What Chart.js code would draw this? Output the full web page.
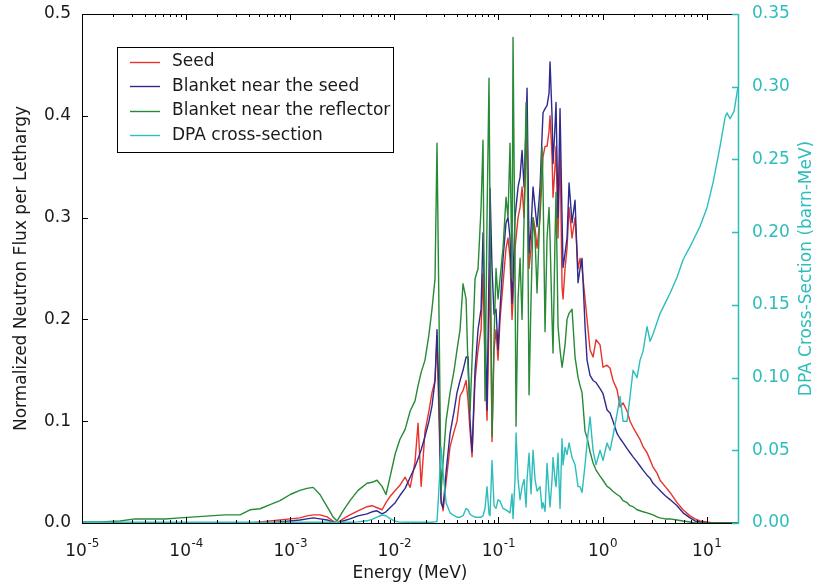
<!DOCTYPE html>
<html>
<head>
<meta charset="utf-8">
<script src="https://cdn.jsdelivr.net/npm/chart.js@4.4.1/dist/chart.umd.min.js"></script>
<style>
  html, body { margin: 0; background: #fff; }
  canvas { display: block; }
</style>
</head>
<body>
<canvas id="flux" width="815" height="585"></canvas>
<script>
// energy grid (MeV)
const energyMeV = [
  1.0e-5, 1.49e-5, 2.32e-5, 3.23e-5, 4.50e-5, 6.27e-5, 8.73e-5, 1.22e-4, 1.70e-4, 2.36e-4,
  3.30e-4, 4.11e-4, 5.13e-4, 6.40e-4, 7.98e-4, 1.00e-3, 1.24e-3, 1.45e-3, 1.66e-3, 1.93e-3,
  2.26e-3, 2.58e-3, 2.82e-3, 3.22e-3, 3.75e-3, 4.48e-3, 5.47e-3, 6.11e-3, 6.82e-3, 7.62e-3,
  8.32e-3, 9.09e-3, 0.0102, 0.0113, 0.0127, 0.0142, 0.0158, 0.0169, 0.0181, 0.0197,
  0.0215, 0.0230, 0.0246, 0.0257, 0.0269, 0.0281, 0.0294, 0.0314, 0.0343, 0.0375,
  0.0400, 0.0428, 0.0457, 0.0489, 0.0511, 0.0534, 0.0558, 0.0596, 0.0637, 0.0681,
  0.0711, 0.0743, 0.0777, 0.0812, 0.0830, 0.0868, 0.0907, 0.0948, 0.0991, 0.1036,
  0.1107, 0.1183, 0.1236, 0.1292, 0.1351, 0.1381, 0.1443, 0.1476, 0.1543, 0.1613,
  0.1686, 0.1762, 0.1842, 0.1883, 0.1968, 0.2057, 0.2150, 0.2247, 0.2349, 0.2510,
  0.2623, 0.2682, 0.2803, 0.2930, 0.3062, 0.3131, 0.3272, 0.3345, 0.3496, 0.3574,
  0.3736, 0.3905, 0.4083, 0.4174, 0.4363, 0.4560, 0.4767, 0.5093, 0.5443, 0.5817,
  0.6080, 0.6355, 0.6791, 0.7099, 0.7585, 0.8105, 0.8661, 0.9462, 1.011, 1.105,
  1.180, 1.261, 1.378, 1.473, 1.574, 1.720, 1.837, 1.963, 2.145, 2.292,
  2.449, 2.676, 2.860, 3.056, 3.338, 3.568, 3.985, 4.450, 5.196, 5.933,
  6.925, 7.736, 8.642, 10.09, 11.52, 13.45, 15.03, 15.70, 16.78, 18.33, 20.0
];

const seedFlux = [
  0, 0, 0, 0, 0, 0, 0, 0, 0, 0,
  0, 0, 0.001, 0.002, 0.003, 0.004, 0.005, 0.007, 0.008, 0.008,
  0.006, 0.002, 0.0, 0.004, 0.008, 0.012, 0.016, 0.017, 0.015, 0.013,
  0.020, 0.026, 0.032, 0.037, 0.045, 0.035, 0.060, 0.098, 0.036, 0.090,
  0.110, 0.128, 0.140, 0.183, 0.100, 0.025, 0.012, 0.040, 0.075, 0.090,
  0.100, 0.125, 0.130, 0.140, 0.120, 0.090, 0.065, 0.140, 0.170, 0.190,
  0.245, 0.160, 0.101, 0.200, 0.255, 0.080, 0.170, 0.190, 0.160, 0.200,
  0.235, 0.270, 0.280, 0.260, 0.200, 0.220, 0.270, 0.280, 0.300, 0.310,
  0.330, 0.300, 0.360, 0.390, 0.250, 0.270, 0.300, 0.290, 0.270, 0.300,
  0.340, 0.360, 0.370, 0.370, 0.385, 0.400, 0.360, 0.320, 0.350, 0.370,
  0.280, 0.370, 0.232, 0.220, 0.250, 0.270, 0.310, 0.280, 0.300, 0.250,
  0.260, 0.250, 0.220, 0.200, 0.170, 0.163, 0.180, 0.175, 0.153, 0.155,
  0.152, 0.140, 0.131, 0.114, 0.118, 0.110, 0.100, 0.094, 0.087, 0.082,
  0.075, 0.069, 0.062, 0.055, 0.049, 0.042, 0.036, 0.030, 0.020, 0.013,
  0.007, 0.004, 0.002, 0.001, 0, 0, 0, 0, 0, 0, 0
];

const blanketSeedFlux = [
  0, 0, 0, 0, 0, 0, 0, 0, 0, 0,
  0, 0, 0, 0, 0.001, 0.002, 0.003, 0.004, 0.005, 0.004,
  0.003, 0.001, 0.0, 0.002, 0.004, 0.007, 0.009, 0.011, 0.012, 0.009,
  0.011, 0.015, 0.020, 0.027, 0.034, 0.045, 0.055, 0.063, 0.072, 0.085,
  0.100, 0.115, 0.140, 0.190, 0.120, 0.020, 0.015, 0.050, 0.088, 0.110,
  0.128, 0.140, 0.150, 0.163, 0.163, 0.100, 0.070, 0.150, 0.190, 0.210,
  0.285, 0.200, 0.111, 0.250, 0.329, 0.250, 0.205, 0.210, 0.170, 0.210,
  0.260, 0.295, 0.300, 0.280, 0.216, 0.240, 0.300, 0.310, 0.330, 0.340,
  0.366, 0.330, 0.390, 0.427, 0.265, 0.290, 0.330, 0.310, 0.291, 0.330,
  0.380, 0.403, 0.407, 0.410, 0.422, 0.453, 0.400, 0.353, 0.390, 0.413,
  0.300, 0.407, 0.300, 0.251, 0.265, 0.280, 0.334, 0.295, 0.317, 0.236,
  0.250, 0.260, 0.193, 0.160, 0.145, 0.140, 0.138, 0.132, 0.127, 0.111,
  0.108, 0.100, 0.088, 0.083, 0.079, 0.073, 0.069, 0.065, 0.060, 0.056,
  0.052, 0.047, 0.044, 0.039, 0.035, 0.032, 0.027, 0.023, 0.017, 0.010,
  0.005, 0.002, 0.001, 0, 0, 0, 0, 0, 0, 0, 0
];

const blanketReflFlux = [
  0.001, 0.001, 0.002, 0.004, 0.004, 0.004, 0.005, 0.006, 0.007, 0.008,
  0.008, 0.013, 0.014, 0.018, 0.022, 0.028, 0.032, 0.034, 0.035, 0.028,
  0.016, 0.006, 0.002, 0.012, 0.022, 0.032, 0.039, 0.040, 0.042, 0.036,
  0.028, 0.045, 0.068, 0.082, 0.092, 0.110, 0.120, 0.135, 0.148, 0.160,
  0.185, 0.210, 0.240, 0.373, 0.200, 0.030, 0.060, 0.100, 0.128, 0.150,
  0.170, 0.190, 0.235, 0.220, 0.150, 0.110, 0.160, 0.240, 0.250, 0.310,
  0.376, 0.120, 0.300, 0.437, 0.300, 0.085, 0.180, 0.250, 0.220, 0.240,
  0.270, 0.320, 0.300, 0.373, 0.240, 0.477, 0.250, 0.095, 0.220, 0.260,
  0.200, 0.300, 0.413, 0.380, 0.126, 0.220, 0.300, 0.280, 0.226, 0.310,
  0.369, 0.330, 0.188, 0.280, 0.310, 0.280, 0.200, 0.167, 0.280, 0.325,
  0.193, 0.170, 0.153, 0.160, 0.175, 0.200, 0.206, 0.210, 0.163, 0.143,
  0.135, 0.128, 0.090, 0.084, 0.070, 0.059, 0.052, 0.046, 0.042, 0.036,
  0.034, 0.031, 0.028, 0.026, 0.022, 0.020, 0.017, 0.016, 0.013, 0.012,
  0.011, 0.010, 0.009, 0.008, 0.006, 0.005, 0.004, 0.004, 0.003, 0.002,
  0.001, 0, 0, 0, 0, 0, 0, 0, 0, 0, 0
];

// DPA cross-section, right axis (barn-MeV)
const dpaXs = [
  0.0005, 0.0005, 0.0005, 0.0005, 0.0005, 0.0005, 0.0005, 0.0005, 0.0005, 0.0005,
  0.0005, 0.0005, 0.0005, 0.0005, 0.0005, 0.0005, 0.0005, 0.0005, 0.0005, 0.0005,
  0.0005, 0.0005, 0.0005, 0.0005, 0.0005, 0.0008, 0.0015, 0.0025, 0.004, 0.0055,
  0.005, 0.003, 0.0012, 0.0006, 0.0005, 0.0005, 0.0005, 0.0005, 0.0005, 0.0005,
  0.0005, 0.0005, 0.0008, 0.001, 0.025, 0.052, 0.035, 0.014, 0.007, 0.005,
  0.004, 0.004, 0.005, 0.010, 0.009, 0.006, 0.005, 0.004, 0.004, 0.004,
  0.005, 0.010, 0.025, 0.006, 0.005, 0.043, 0.012, 0.010, 0.016, 0.015,
  0.010, 0.009, 0.008, 0.007, 0.020, 0.003, 0.030, 0.062, 0.030, 0.016,
  0.025, 0.030, 0.011, 0.030, 0.048, 0.020, 0.050, 0.030, 0.022, 0.025,
  0.010, 0.014, 0.008, 0.041, 0.020, 0.011, 0.030, 0.045, 0.030, 0.025,
  0.048, 0.010, 0.058, 0.040, 0.052, 0.047, 0.055, 0.045, 0.040, 0.025,
  0.025, 0.021, 0.040, 0.055, 0.073, 0.050, 0.040, 0.050, 0.043, 0.055,
  0.050, 0.060, 0.075, 0.087, 0.070, 0.070, 0.087, 0.105, 0.100, 0.112,
  0.118, 0.135, 0.125, 0.130, 0.138, 0.144, 0.151, 0.158, 0.169, 0.181,
  0.190, 0.197, 0.204, 0.217, 0.234, 0.259, 0.279, 0.282, 0.278, 0.283, 0.300
];

const seriesLabels = ['Seed', 'Blanket near the seed', 'Blanket near the reflector', 'DPA cross-section'];
const fluxTicks = [0, 0.1, 0.2, 0.3, 0.4, 0.5];
const dpaTicks = [0, 0.05, 0.10, 0.15, 0.20, 0.25, 0.30, 0.35];
const energyDecades = [1e-5, 1e-4, 1e-3, 1e-2, 1e-1, 1, 10];

const FONT = "'DejaVu Sans', sans-serif";
const FS = 17;
const INK = '#1a1a1a';
const RED = '#e8332a';
const NAVY = '#2e2a8e';
const GREEN = '#268a36';
const TEAL = '#2ebdbd';
const colors = [RED, NAVY, GREEN, TEAL];
const values = [seedFlux, blanketSeedFlux, blanketReflFlux, dpaXs];

// minor ticks 2..9 per decade inside the x range
let minorEnergies = [];
energyDecades.forEach(d => {
  for (let k = 2; k <= 9; k++) if (k * d <= 20) minorEnergies.push(k * d);
});

// drop the half-label padding chart.js adds so the plot box sits where the reference has it
let fixVertical = (s, w) => {
  s.width = w;
  s.paddingTop = 0;
  s.paddingBottom = 0;
};

const frame = {
  id: 'frame',
  afterDraw(chart) {
    const { ctx, chartArea: a, scales } = chart;
    const x = scales.x, y = scales.y, y2 = scales.y2;
    ctx.save();
    ctx.lineWidth = 1;

    // x ticks, bottom and top, pointing inward
    ctx.strokeStyle = '#000';
    ctx.beginPath();
    energyDecades.forEach(v => {
      let px = Math.round(x.getPixelForValue(v)) + 0.5;
      ctx.moveTo(px, a.bottom); ctx.lineTo(px, a.bottom - 6);
      ctx.moveTo(px, a.top); ctx.lineTo(px, a.top + 6);
    });
    minorEnergies.forEach(v => {
      let px = Math.round(x.getPixelForValue(v)) + 0.5;
      ctx.moveTo(px, a.bottom); ctx.lineTo(px, a.bottom - 3);
      ctx.moveTo(px, a.top); ctx.lineTo(px, a.top + 3);
    });
    fluxTicks.forEach(v => {
      let py = Math.round(y.getPixelForValue(v)) + 0.5;
      ctx.moveTo(a.left, py); ctx.lineTo(a.left + 6, py);
    });
    ctx.stroke();

    // spines
    ctx.beginPath();
    ctx.moveTo(a.left + 0.5, a.top + 0.5);
    ctx.lineTo(a.left + 0.5, a.bottom + 0.5);
    ctx.lineTo(a.right, a.bottom + 0.5);
    ctx.moveTo(a.left, a.top + 0.5);
    ctx.lineTo(a.right, a.top + 0.5);
    ctx.stroke();

    ctx.strokeStyle = TEAL;
    ctx.lineWidth = 1.5;
    ctx.beginPath();
    ctx.moveTo(a.right + 0.5, a.top);
    ctx.lineTo(a.right + 0.5, a.bottom + 1);
    dpaTicks.forEach(v => {
      let py = Math.round(y2.getPixelForValue(v)) + 0.5;
      ctx.moveTo(a.right, py); ctx.lineTo(a.right - 6, py);
    });
    ctx.stroke();

    // x tick labels as 10 with a raised exponent
    ctx.fillStyle = INK;
    ctx.textBaseline = 'alphabetic';
    ctx.textAlign = 'left';
    energyDecades.forEach(v => {
      let base = '10', exp = String(Math.round(Math.log10(v)));
      ctx.font = FS + 'px ' + FONT;
      let wb = ctx.measureText(base).width;
      ctx.font = (FS * 0.7) + 'px ' + FONT;
      let we = ctx.measureText(exp).width;
      let px = x.getPixelForValue(v) - (wb + we) / 2;
      ctx.font = FS + 'px ' + FONT;
      ctx.fillText(base, px, a.bottom + 33);
      ctx.font = (FS * 0.7) + 'px ' + FONT;
      ctx.fillText(exp, px + wb + 0.5, a.bottom + 24);
    });

    // legend box
    const lx = a.left + 35, ly = a.top + 33, lw = 276, lh = 105;
    ctx.fillStyle = '#fff';
    ctx.fillRect(lx, ly, lw, lh);
    ctx.strokeStyle = '#000';
    ctx.lineWidth = 1;
    ctx.strokeRect(lx + 0.5, ly + 0.5, lw, lh);
    ctx.font = FS + 'px ' + FONT;
    ctx.textBaseline = 'middle';
    ctx.textAlign = 'left';
    seriesLabels.forEach((lab, i) => {
      let ry = ly + 15 + i * 24.4;
      ctx.strokeStyle = colors[i];
      ctx.lineWidth = 1.4;
      ctx.beginPath();
      ctx.moveTo(lx + 13, Math.round(ry) + 0.5);
      ctx.lineTo(lx + 43, Math.round(ry) + 0.5);
      ctx.stroke();
      ctx.fillStyle = INK;
      ctx.fillText(lab, lx + 55, ry);
    });

    // axis titles
    ctx.fillStyle = INK;
    ctx.textAlign = 'center';
    ctx.fillText('Energy (MeV)', (a.left + a.right) / 2, 574);
    ctx.save();
    ctx.translate(22, (a.top + a.bottom) / 2);
    ctx.rotate(-Math.PI / 2);
    ctx.fillText('Normalized Neutron Flux per Lethargy', 0, 0);
    ctx.restore();
    ctx.save();
    ctx.translate(807, (a.top + a.bottom) / 2);
    ctx.rotate(-Math.PI / 2);
    ctx.fillStyle = TEAL;
    ctx.fillText('DPA Cross-Section (barn-MeV)', 0, 0);
    ctx.restore();

    ctx.restore();
  }
};

const datasets = values.map((vals, i) => ({
  label: seriesLabels[i],
  data: energyMeV.map((e, j) => ({ x: e, y: vals[j] })),
  borderColor: colors[i],
  borderWidth: 1.4,
  borderJoinStyle: 'round',
  pointRadius: 0,
  tension: 0,
  fill: false,
  yAxisID: i === 3 ? 'y2' : 'y',
  order: 4 - i
}));

new Chart(document.getElementById('flux'), {
  type: 'line',
  data: { datasets },
  options: {
    responsive: false,
    animation: false,
    devicePixelRatio: 1,
    layout: { padding: { top: 14, left: 0, right: 0, bottom: 0 } },
    plugins: { legend: { display: false }, tooltip: { enabled: false } },
    scales: {
      x: {
        type: 'logarithmic',
        position: 'bottom',
        min: 1e-5,
        max: 20,
        grid: { display: false, drawTicks: false },
        border: { display: false },
        afterBuildTicks: s => { s.ticks = energyDecades.map(v => ({ value: v })); },
        afterFit: s => { s.height = 62; s.paddingLeft = 0; s.paddingRight = 0; },
        ticks: { display: false }
      },
      y: {
        type: 'linear',
        position: 'left',
        min: 0,
        max: 0.5,
        grid: { display: false, drawTicks: false },
        border: { display: false },
        afterBuildTicks: s => { s.ticks = fluxTicks.map(v => ({ value: v })); },
        afterFit: s => fixVertical(s, 82),
        ticks: {
          padding: 11,
          color: INK,
          font: { family: FONT, size: FS },
          callback: v => v.toFixed(1)
        }
      },
      y2: {
        type: 'linear',
        position: 'right',
        min: 0,
        max: 0.35,
        grid: { display: false, drawTicks: false },
        border: { display: false },
        afterBuildTicks: s => { s.ticks = dpaTicks.map(v => ({ value: v })); },
        afterFit: s => fixVertical(s, 77),
        ticks: {
          padding: 14,
          color: TEAL,
          font: { family: FONT, size: FS },
          callback: v => v.toFixed(2)
        }
      }
    }
  },
  plugins: [frame]
});
</script>
</body>
</html>
